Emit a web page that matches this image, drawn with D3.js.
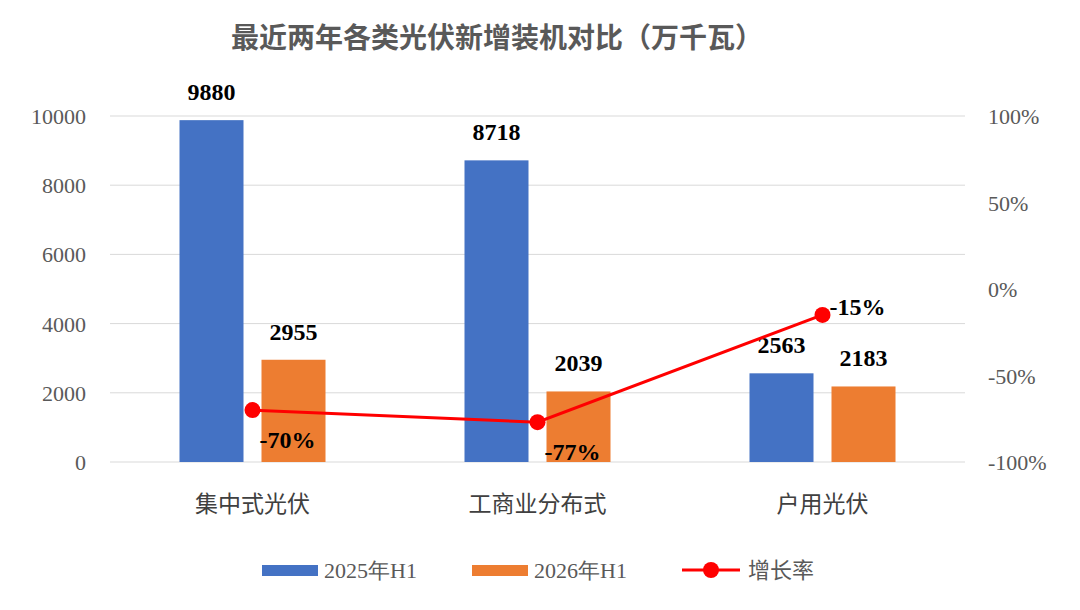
<!DOCTYPE html>
<html><head><meta charset="utf-8">
<script src="https://cdn.jsdelivr.net/npm/d3@7"></script>
<style>body{margin:0;background:#fff}</style>
</head><body><svg id="c" width="1080" height="610"></svg>
<script>
const categories = ['集中式光伏', '工商业分布式', '户用光伏'];
const values2025 = [9880, 8718, 2563];
const values2026 = [2955, 2039, 2183];
const growth = [-70, -77, -15];
const leftTicks = [0, 2000, 4000, 6000, 8000, 10000];
const rightTicks = [-100, -50, 0, 50, 100];

const svg = d3.select('#c');
const serif = 'Liberation Serif, Times New Roman, serif';
const sans = 'Noto Sans CJK SC, sans-serif';
const blue = '#4472c4', orange = '#ed7d31';

const x = d3.scaleBand().domain(categories).range([110, 965]);
const y = d3.scaleLinear().domain([0, 10000]).range([462, 116]);
const yr = d3.scaleLinear().domain([-100, 100]).range([462, 116]);

// gridlines
svg.append('g').selectAll('line').data(leftTicks).join('line')
  .attr('x1', 110).attr('x2', 965).attr('y1', d => y(d)).attr('y2', d => y(d))
  .attr('stroke', '#d9d9d9').attr('stroke-width', 1);

svg.append('g').selectAll('text').data(leftTicks).join('text')
  .attr('x', 86).attr('y', d => y(d) + 8).attr('text-anchor', 'end')
  .attr('font-family', serif).attr('font-size', 22).attr('fill', '#595959').text(d => d);
svg.append('g').selectAll('text').data(rightTicks).join('text')
  .attr('x', 988).attr('y', d => yr(d) + 8)
  .attr('font-family', serif).attr('font-size', 22).attr('fill', '#595959').text(d => d + '%');

const bw = 64, gap = 18;
const g = svg.append('g');
categories.forEach((c, i) => {
  const cx = x(c) + x.bandwidth() / 2;
  [[values2025[i], blue, cx - gap / 2 - bw], [values2026[i], orange, cx + gap / 2]].forEach(([v, col, bx]) => {
    g.append('rect').attr('x', bx).attr('y', y(v)).attr('width', bw).attr('height', y(0) - y(v)).attr('fill', col);
    g.append('text').attr('x', bx + bw / 2).attr('y', y(v) - 20).attr('text-anchor', 'middle')
      .attr('font-family', serif).attr('font-weight', 'bold').attr('font-size', 24).text(v);
  });
  svg.append('text').attr('x', cx).attr('y', 512).attr('text-anchor', 'middle')
    .attr('font-family', sans).attr('font-size', 23).attr('fill', '#404040').text(c);
});

const lx = d => x(d.c) + x.bandwidth() / 2;
const pts = categories.map((c, i) => ({ c, v: growth[i] }));
svg.append('path').datum(pts)
  .attr('d', d3.line().x(lx).y(d => yr(d.v)))
  .attr('fill', 'none').attr('stroke', '#ff0000').attr('stroke-width', 3);
svg.selectAll('circle.p').data(pts).join('circle')
  .attr('cx', lx).attr('cy', d => yr(d.v)).attr('r', 8).attr('fill', '#ff0000');
svg.selectAll('text.g').data(pts).join('text')
  .attr('x', d => lx(d) + 35).attr('y', (d, i) => i < 2 ? yr(d.v) + 38 : yr(d.v) - 0)
  .attr('text-anchor', 'middle').attr('font-family', serif).attr('font-weight', 'bold')
  .attr('font-size', 24).text(d => d.v + '%');

svg.append('text').attr('x', 497).attr('y', 48).attr('text-anchor', 'middle')
  .attr('font-family', sans).attr('font-weight', 'bold').attr('font-size', 28).attr('fill', '#595959')
  .text('最近两年各类光伏新增装机对比（万千瓦）');

// legend
const leg = svg.append('g').attr('font-family', serif).attr('font-size', 22).attr('fill', '#595959');
leg.append('rect').attr('x', 262).attr('y', 565).attr('width', 56).attr('height', 11).attr('fill', blue);
leg.append('text').attr('x', 324).attr('y', 578).text('2025年H1');
leg.append('rect').attr('x', 472).attr('y', 565).attr('width', 56).attr('height', 11).attr('fill', orange);
leg.append('text').attr('x', 534).attr('y', 578).text('2026年H1');
leg.append('line').attr('x1', 682).attr('x2', 740).attr('y1', 570).attr('y2', 570).attr('stroke', '#ff0000').attr('stroke-width', 3);
leg.append('circle').attr('cx', 711).attr('cy', 570).attr('r', 8).attr('fill', '#ff0000');
leg.append('text').attr('x', 748).attr('y', 578).attr('font-family', sans).text('增长率');
</script></body></html>
